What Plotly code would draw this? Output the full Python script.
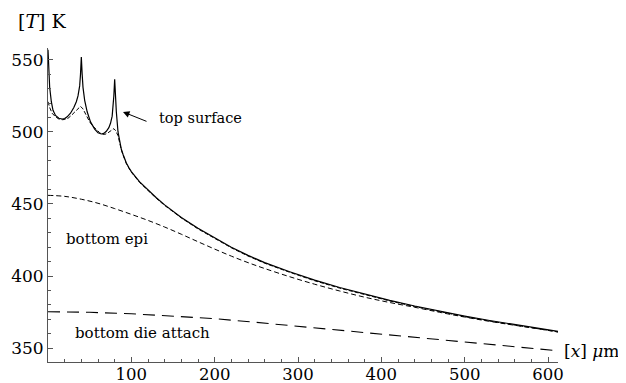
import plotly.graph_objects as go

# top surface, fine resolution (solid)
top_x = [0, 1, 2, 4, 6, 9, 13, 17, 20, 23, 27, 31, 34, 36, 38, 39, 40, 41, 42, 44, 47, 51, 56, 60, 64, 67, 70,
         73, 75, 77, 78, 79, 80, 81, 82, 84, 86, 88, 90, 92, 94, 97, 100, 110, 120, 130, 140, 150, 160, 180,
         200, 220, 240, 260, 290, 320, 350, 380, 410, 440, 470, 500, 530, 560, 590, 612]
top_T = [557, 540, 531, 521, 515, 511.5, 509.5, 509, 509.3, 510.5, 513, 517, 521, 525, 532, 540, 552, 540, 531,
         522, 514, 507, 502, 499.5, 498.6, 499, 500.5, 503, 506, 511, 516, 525, 536.5, 523, 514, 500, 492.5,
         488, 484.5, 481.3, 478.5, 475.3, 472.5, 465.3, 459.5, 454.3, 449.4, 444.9, 440.7, 433.1, 426.3,
         420, 414.3, 409.3, 403, 397.1, 392, 387.3, 383.1, 379.2, 375.6, 372.2, 369.1, 366.3, 363.6, 361.6]

# top surface, averaged (short dash)
avg_x = [0, 2, 5, 9, 13, 17, 20, 24, 28, 32, 36, 39, 42, 46, 50, 54, 58, 62, 65, 68, 71, 74, 77, 79, 81, 84,
         86, 88, 90, 92, 94, 97, 100, 110, 120, 130, 140, 150, 160, 180, 200, 220, 240, 260, 290, 320, 350,
         380, 410, 440, 470, 500, 530, 560, 590, 612]
avg_T = [521, 517, 513, 510.5, 509, 508.5, 508.7, 509.5, 511.5, 514, 516.5, 517.8, 516, 511.5, 507, 504,
         501.5, 499.5, 498.5, 498.3, 499, 500, 501.5, 502.3, 501, 497.5, 492, 487.6, 484.1, 480.9, 478.1,
         474.9, 472.1, 464.9, 459.1, 453.9, 449, 444.5, 440.3, 432.7, 425.9, 419.6, 413.9, 408.9, 402.6,
         396.7, 391.6, 386.9, 382.7, 378.8, 375.2, 371.8, 368.7, 365.9, 363.2, 361.2]

# bottom epi (short dash)
epi_x = [0, 20, 40, 60, 80, 100, 120, 140, 160, 180, 200, 220, 240, 260, 290, 320, 350, 380, 410, 440, 470,
         500, 530, 560, 590, 612]
epi_T = [456, 455.3, 453.3, 450.5, 446.8, 442.8, 438.6, 434, 429, 423.8, 418.7, 413.8, 409.3, 405.2, 399.5,
         394.3, 389.6, 385.3, 381.6, 378.3, 374.8, 371.5, 368.5, 365.8, 363.2, 361.1]

# bottom die attach (long dash)
die_x = [0, 50, 100, 150, 200, 250, 300, 350, 400, 450, 500, 550, 612]
die_T = [375.2, 374.8, 373.8, 372.3, 370.4, 367.8, 365.1, 362.4, 359.6, 357.0, 354.4, 351.6, 348.1]

x_ticks = [100, 200, 300, 400, 500, 600]
y_ticks = [350, 400, 450, 500, 550]

FONT = "DejaVu Serif"
fig = go.Figure()
fig.add_trace(go.Scatter(x=die_x, y=die_T, mode="lines",
                         line=dict(color="black", width=1.1, dash="12px,7px")))
fig.add_trace(go.Scatter(x=epi_x, y=epi_T, mode="lines", line_shape="spline",
                         line=dict(color="black", width=1.0, dash="5px,3px")))
fig.add_trace(go.Scatter(x=avg_x, y=avg_T, mode="lines",
                         line=dict(color="black", width=1.0, dash="4px,2px")))
fig.add_trace(go.Scatter(x=top_x, y=top_T, mode="lines",
                         line=dict(color="black", width=1.2)))

fig.update_layout(
    width=618, height=375,
    margin=dict(l=40, r=68, t=40, b=21),
    paper_bgcolor="white", plot_bgcolor="white",
    showlegend=False,
    font=dict(family=FONT, color="black", size=17),
    xaxis=dict(range=[0, 612], tickvals=x_ticks, ticks="inside", ticklen=5, tickcolor="#555",
               showline=True, linecolor="#555", linewidth=1, showgrid=False, zeroline=False,
               automargin=False, tickfont=dict(family=FONT, size=16.5), ticklabelstandoff=-3,
               minor=dict(ticks="inside", ticklen=3, dtick=20, tick0=0, tickcolor="#555", showgrid=False)),
    yaxis=dict(range=[340.3, 558.3], tickvals=y_ticks, ticks="inside", ticklen=5, tickcolor="#555",
               showline=True, linecolor="#555", linewidth=1, showgrid=False, zeroline=False,
               automargin=False, tickfont=dict(family=FONT, size=17),
               minor=dict(ticks="inside", ticklen=3, dtick=10, tick0=0, tickcolor="#555", showgrid=False)),
)

fig.add_annotation(xref="paper", yref="paper", x=-0.063, y=1.086, xanchor="left", yanchor="middle",
                   text="[<i>T</i>] K", showarrow=False, font=dict(size=19))
fig.add_annotation(xref="paper", yref="paper", x=1.008, y=0.035, xanchor="left", yanchor="middle",
                   text="[<i>x</i>] <i>μ</i>m", showarrow=False, font=dict(size=17))
fig.add_annotation(x=130.8, y=509.7, xanchor="left", yanchor="middle", text="top surface",
                   showarrow=False, font=dict(size=14.5))
fig.add_annotation(x=90, y=513.9, ax=25, ay=10, text="", showarrow=True,
                   arrowhead=2, arrowsize=1.3, arrowwidth=1, arrowcolor="black")
fig.add_annotation(x=19.2, y=425.7, xanchor="left", yanchor="middle", text="bottom epi",
                   showarrow=False, font=dict(size=15))
fig.add_annotation(x=30, y=360.4, xanchor="left", yanchor="middle", text="bottom die attach",
                   showarrow=False, font=dict(size=15))

fig.write_html("out.html")
